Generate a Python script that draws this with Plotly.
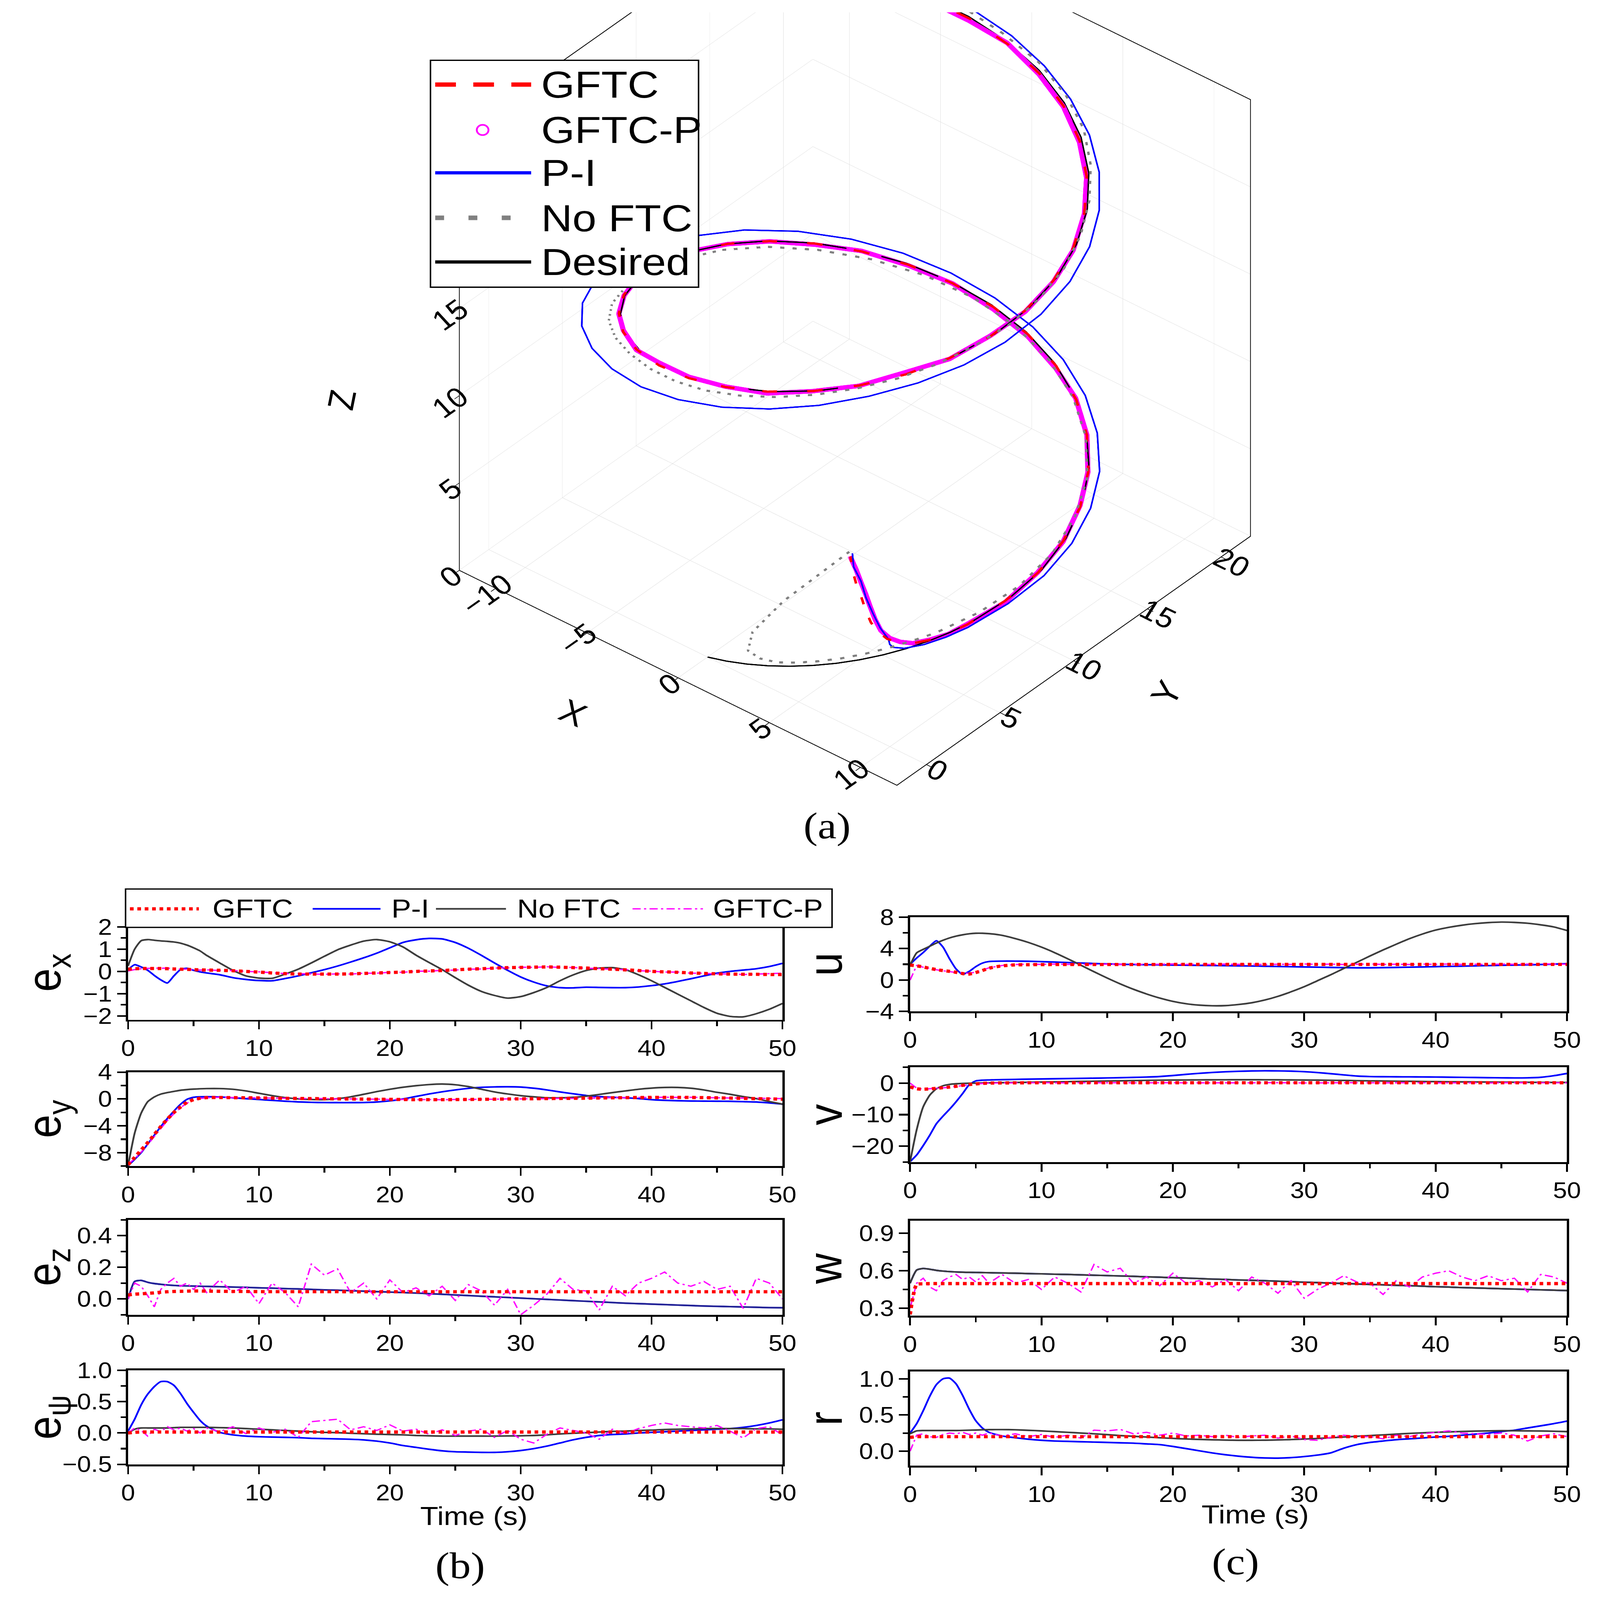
import plotly.graph_objects as go

W, H = 4329, 4929
FONT = "Arial, Liberation Sans, sans-serif"
SERIF = "Times New Roman, Liberation Serif, serif"
RED, BLUE, GRAY, MAG = "#ff0000", "#0000ff", "#3c3c3c", "#ff00ff"

# time grid (s)
t = [0, 0.5, 1, 1.5, 2, 2.5, 3, 3.5, 4, 4.5, 5, 5.5, 6,
     7, 8, 9, 10, 11, 12, 13, 14, 15, 16,
     17, 18, 19, 20, 21, 22, 23, 24, 25, 26,
     27, 28, 29, 30, 31, 32, 33, 34, 35, 36,
     37, 38, 39, 40, 41, 42, 43, 44, 45, 46,
     47, 48, 49, 50]

# desired helix
xd = [0.00, 1.00, 1.99, 2.96, 3.89, 4.79, 5.65, 6.44, 7.17, 7.83, 8.41, 8.91, 9.32,
      9.85, 10.00, 9.74, 9.09, 8.08, 6.75, 5.16, 3.35, 1.41, -0.58,
      -2.56, -4.43, -6.12, -7.57, -8.72, -9.52, -9.94, -9.96, -9.59, -8.84,
      -7.73, -6.31, -4.65, -2.79, -0.83, 1.17, 3.12, 4.94, 6.57, 7.94,
      8.99, 9.68, 9.99, 9.89, 9.41, 8.55, 7.34, 5.85, 4.12, 2.23,
      0.25, -1.74, -3.67, -5.44]
yd = [0.00, 0.05, 0.20, 0.45, 0.79, 1.22, 1.75, 2.35, 3.03, 3.78, 4.60, 5.46, 6.38,
      8.30, 10.29, 12.27, 14.16, 15.89, 17.37, 18.57, 19.42, 19.90, 19.98,
      19.67, 18.97, 17.91, 16.54, 14.90, 13.07, 11.12, 9.13, 7.16, 5.32,
      3.65, 2.24, 1.15, 0.40, 0.03, 0.07, 0.50, 1.31, 2.46, 3.92,
      5.61, 7.49, 9.46, 11.46, 13.39, 15.19, 16.79, 18.11, 19.11, 19.75,
      20.00, 19.85, 19.30, 18.39]
zd = [0.0, 0.25, 0.5, 0.75, 1.0, 1.25, 1.5, 1.75, 2.0, 2.25, 2.5, 2.75, 3.0,
      3.5, 4.0, 4.5, 5.0, 5.5, 6.0, 6.5, 7.0, 7.5, 8.0,
      8.5, 9.0, 9.5, 10.0, 10.5, 11.0, 11.5, 12.0, 12.5, 13.0,
      13.5, 14.0, 14.5, 15.0, 15.5, 16.0, 16.5, 17.0, 17.5, 18.0,
      18.5, 19.0, 19.5, 20.0, 20.5, 21.0, 21.5, 22.0, 22.5, 23.0,
      23.5, 24.0, 24.5, 25.0]

# ---- e_x
ex_gftc = [0.10, 0.12, 0.13, 0.13, 0.13, 0.13, 0.12, 0.11, 0.10, 0.09, 0.08, 0.07, 0.06,
           0.05, 0.03, 0.00, -0.03, -0.07, -0.10, -0.12, -0.12, -0.12, -0.12,
           -0.11, -0.09, -0.07, -0.05, -0.03, 0.00, 0.02, 0.04, 0.07, 0.10,
           0.12, 0.15, 0.17, 0.18, 0.19, 0.20, 0.19, 0.17, 0.15, 0.12,
           0.10, 0.07, 0.04, 0.00, -0.02, -0.04, -0.07, -0.09, -0.11, -0.12,
           -0.13, -0.13, -0.14, -0.14]
ex_pi = [0.08, 0.30, 0.20, 0.05, -0.18, -0.38, -0.52, -0.20, 0.08, 0.14, 0.05, -0.02, -0.07,
         -0.15, -0.28, -0.36, -0.41, -0.42, -0.32, -0.20, -0.06, 0.08, 0.24,
         0.42, 0.61, 0.82, 1.06, 1.30, 1.42, 1.48, 1.46, 1.30, 1.04,
         0.72, 0.38, 0.05, -0.25, -0.48, -0.65, -0.73, -0.74, -0.71, -0.72,
         -0.73, -0.73, -0.70, -0.64, -0.56, -0.45, -0.33, -0.20, -0.08, 0.00,
         0.06, 0.12, 0.22, 0.36]
ex_noftc = [0.25, 1.00, 1.38, 1.43, 1.40, 1.37, 1.35, 1.32, 1.27, 1.18, 1.06, 0.92, 0.72,
            0.38, 0.05, -0.20, -0.30, -0.31, -0.12, 0.10, 0.38, 0.68, 0.97,
            1.18, 1.36, 1.43, 1.33, 1.10, 0.73, 0.40, 0.08, -0.28, -0.62,
            -0.90, -1.08, -1.20, -1.13, -0.95, -0.72, -0.42, -0.16, 0.04, 0.15,
            0.17, 0.08, -0.15, -0.42, -0.72, -1.02, -1.32, -1.62, -1.88, -2.02,
            -2.04, -1.90, -1.70, -1.44]
ex_gftcp = [0.02, 0.08, 0.12, 0.14, 0.15, 0.14, 0.15, 0.12, 0.10, 0.10, 0.08, 0.06, 0.07,
            0.04, 0.04, 0.00, -0.02, -0.06, -0.10, -0.10, -0.11, -0.13, -0.11,
            -0.12, -0.08, -0.08, -0.04, -0.04, 0.01, 0.01, 0.05, 0.06, 0.10,
            0.11, 0.15, 0.16, 0.19, 0.18, 0.21, 0.18, 0.18, 0.14, 0.13,
            0.09, 0.08, 0.03, 0.01, -0.03, -0.03, -0.08, -0.08, -0.12, -0.11,
            -0.14, -0.12, -0.10, -0.08]

# ---- e_y
ey_gftc = [-9.80, -8.70, -7.60, -6.50, -5.30, -4.10, -3.00, -2.00, -1.20, -0.50, -0.10, 0.10, 0.20,
           0.22, 0.20, 0.18, 0.16, 0.13, 0.10, 0.08, 0.06, 0.04, 0.02,
           0.00, -0.02, -0.04, -0.06, -0.08, -0.10, -0.10, -0.10, -0.09, -0.07,
           -0.05, -0.03, 0.00, 0.02, 0.04, 0.06, 0.08, 0.10, 0.12, 0.15,
           0.18, 0.20, 0.22, 0.23, 0.24, 0.24, 0.23, 0.20, 0.17, 0.13,
           0.09, 0.05, 0.01, -0.03]
ey_pi = [-9.93, -9.00, -8.00, -6.70, -5.40, -4.10, -2.90, -1.80, -0.80, -0.05, 0.25, 0.33, 0.34,
         0.30, 0.18, 0.05, -0.08, -0.20, -0.33, -0.43, -0.50, -0.53, -0.54,
         -0.54, -0.53, -0.45, -0.28, 0.00, 0.38, 0.75, 1.07, 1.35, 1.58,
         1.73, 1.80, 1.82, 1.78, 1.60, 1.35, 1.05, 0.78, 0.52, 0.35,
         0.25, 0.18, 0.06, -0.10, -0.20, -0.26, -0.30, -0.32, -0.33, -0.35,
         -0.40, -0.45, -0.58, -0.77]
ey_noftc = [-9.93, -5.10, -2.10, -0.40, 0.30, 0.73, 0.95, 1.13, 1.30, 1.40, 1.47, 1.52, 1.55,
            1.55, 1.45, 1.20, 0.85, 0.50, 0.20, 0.02, -0.08, -0.10, 0.05,
            0.32, 0.70, 1.10, 1.45, 1.75, 1.98, 2.15, 2.23, 2.12, 1.85,
            1.45, 1.05, 0.75, 0.50, 0.32, 0.18, 0.17, 0.25, 0.42, 0.68,
            0.95, 1.20, 1.45, 1.62, 1.72, 1.72, 1.60, 1.35, 1.00, 0.70,
            0.35, 0.05, -0.38, -0.77]
ey_gftcp = [-9.70, -8.90, -7.90, -6.80, -5.60, -4.40, -3.20, -2.20, -1.30, -0.60, -0.15, 0.08, 0.18,
            0.25, 0.22, 0.20, 0.15, 0.15, 0.10, 0.10, 0.05, 0.06, 0.01,
            0.02, -0.03, -0.02, -0.07, -0.06, -0.10, -0.08, -0.11, -0.07, -0.08,
            -0.03, -0.04, 0.02, 0.01, 0.05, 0.05, 0.10, 0.09, 0.14, 0.14,
            0.20, 0.19, 0.24, 0.22, 0.26, 0.23, 0.25, 0.21, 0.20, 0.15,
            0.14, 0.10, 0.09, 0.06]

# ---- e_z
ez_gftc = [0.025, 0.030, 0.032, 0.035, 0.038, 0.042, 0.045, 0.047, 0.048, 0.049, 0.050, 0.050, 0.049,
           0.048, 0.047, 0.047, 0.046, 0.046, 0.046, 0.046, 0.046, 0.046, 0.046,
           0.045, 0.045, 0.045, 0.045, 0.045, 0.045, 0.045, 0.045, 0.045, 0.045,
           0.045, 0.045, 0.045, 0.045, 0.045, 0.045, 0.045, 0.045, 0.045, 0.045,
           0.045, 0.045, 0.045, 0.045, 0.045, 0.045, 0.045, 0.045, 0.045, 0.045,
           0.045, 0.045, 0.045, 0.045]
ez_pi = [0.000, 0.110, 0.117, 0.105, 0.097, 0.092, 0.088, 0.085, 0.083, 0.082, 0.081, 0.080, 0.079,
         0.077, 0.075, 0.073, 0.070, 0.068, 0.065, 0.063, 0.060, 0.057, 0.055,
         0.052, 0.049, 0.046, 0.043, 0.040, 0.037, 0.033, 0.029, 0.025, 0.021,
         0.017, 0.013, 0.009, 0.005, 0.001, -0.003, -0.007, -0.011, -0.015, -0.019,
         -0.023, -0.027, -0.030, -0.033, -0.036, -0.039, -0.042, -0.045, -0.047, -0.049,
         -0.051, -0.053, -0.055, -0.056]
ez_noftc = list(ez_pi)  # the two curves lie on top of each other
ez_gftcp = [0.00, 0.10, 0.08, 0.02, -0.05, 0.06, 0.10, 0.13, 0.08, 0.10, 0.06, 0.10, 0.04,
            0.12, 0.04, 0.08, -0.03, 0.10, 0.04, -0.05, 0.22, 0.15, 0.19,
            0.04, 0.10, 0.00, 0.12, 0.04, 0.07, 0.02, 0.08, -0.01, 0.09,
            0.05, -0.04, 0.06, -0.10, -0.04, 0.03, 0.13, 0.06, 0.05, -0.07,
            0.08, 0.02, 0.10, 0.13, 0.17, 0.10, 0.08, 0.11, 0.06, 0.08,
            -0.06, 0.13, 0.10, 0.00]

# ---- e_psi
epsi_gftc = [0.000, 0.010, 0.015, 0.015, 0.016, 0.016, 0.015, 0.015, 0.015, 0.015, 0.015, 0.015, 0.015,
             0.015, 0.015, 0.015, 0.015, 0.015, 0.015, 0.015, 0.015, 0.015, 0.015,
             0.015, 0.015, 0.015, 0.015, 0.015, 0.015, 0.015, 0.015, 0.015, 0.015,
             0.015, 0.015, 0.015, 0.015, 0.015, 0.015, 0.015, 0.015, 0.015, 0.015,
             0.015, 0.015, 0.015, 0.015, 0.015, 0.015, 0.015, 0.015, 0.015, 0.015,
             0.015, 0.015, 0.015, 0.015]
epsi_pi = [0.03, 0.22, 0.45, 0.62, 0.74, 0.82, 0.82, 0.76, 0.63, 0.47, 0.33, 0.20, 0.11,
           0.01, -0.03, -0.05, -0.06, -0.065, -0.07, -0.075, -0.085, -0.09, -0.095,
           -0.10, -0.11, -0.13, -0.16, -0.20, -0.23, -0.26, -0.285, -0.30, -0.305,
           -0.31, -0.31, -0.30, -0.28, -0.25, -0.21, -0.16, -0.11, -0.07, -0.04,
           -0.025, -0.015, 0.00, 0.01, 0.02, 0.03, 0.04, 0.05, 0.06, 0.07,
           0.09, 0.12, 0.16, 0.21]
epsi_noftc = [0.00, 0.06, 0.08, 0.08, 0.08, 0.08, 0.08, 0.085, 0.09, 0.09, 0.09, 0.09, 0.09,
              0.085, 0.08, 0.07, 0.06, 0.05, 0.04, 0.03, 0.02, 0.01, 0.005,
              -0.005, -0.012, -0.02, -0.025, -0.03, -0.04, -0.045, -0.05, -0.05, -0.05,
              -0.05, -0.05, -0.047, -0.045, -0.04, -0.03, -0.015, -0.005, 0.005, 0.015,
              0.025, 0.03, 0.04, 0.045, 0.055, 0.06, 0.065, 0.07, 0.07, 0.07,
              0.07, 0.065, 0.065, 0.06]
epsi_gftcp = [0.00, 0.08, 0.04, -0.05, 0.06, 0.02, 0.10, 0.05, 0.08, 0.03, 0.07, 0.00, 0.08,
              0.02, 0.10, -0.01, 0.08, 0.01, 0.06, -0.07, 0.18, 0.20, 0.22,
              0.05, 0.10, 0.04, 0.13, 0.03, 0.06, -0.02, 0.05, -0.04, 0.03,
              0.06, -0.07, 0.04, -0.10, -0.16, -0.02, 0.08, 0.04, 0.00, -0.10,
              0.06, -0.01, 0.07, 0.12, 0.16, 0.12, 0.10, 0.08, 0.12, 0.03,
              -0.08, 0.07, 0.10, -0.03]

# ---- u
u_gftc = [1.90, 1.80, 1.66, 1.48, 1.32, 1.20, 1.10, 0.98, 0.82, 0.76, 0.95, 1.20, 1.50,
          1.80, 1.92, 1.95, 1.96, 1.97, 1.97, 1.97, 1.97, 1.97, 1.97,
          1.97, 1.97, 1.97, 1.98, 1.98, 1.98, 1.98, 1.98, 1.98, 1.98,
          1.98, 1.98, 1.98, 1.98, 1.98, 1.98, 1.98, 1.98, 1.98, 1.98,
          1.98, 1.98, 1.98, 1.98, 1.98, 1.98, 1.98, 1.98, 1.98, 1.98,
          1.98, 1.98, 1.98, 1.98]
u_pi = [2.00, 2.80, 3.50, 4.30, 5.00, 4.20, 2.70, 1.40, 0.72, 1.10, 1.70, 2.15, 2.35,
        2.40, 2.40, 2.38, 2.34, 2.28, 2.22, 2.16, 2.10, 2.05, 2.00,
        1.97, 1.95, 1.93, 1.90, 1.88, 1.86, 1.84, 1.82, 1.80, 1.78,
        1.75, 1.72, 1.69, 1.66, 1.63, 1.60, 1.57, 1.55, 1.55, 1.57,
        1.60, 1.63, 1.66, 1.70, 1.73, 1.76, 1.80, 1.83, 1.87, 1.90,
        1.93, 1.97, 2.02, 2.07]
u_noftc = [1.90, 3.45, 3.90, 4.30, 4.70, 5.05, 5.35, 5.58, 5.75, 5.88, 5.95, 5.95, 5.90,
           5.68, 5.27, 4.78, 4.18, 3.48, 2.70, 1.88, 1.05, 0.25, -0.50,
           -1.18, -1.78, -2.30, -2.72, -3.02, -3.20, -3.28, -3.26, -3.12, -2.90,
           -2.55, -2.08, -1.50, -0.85, -0.10, 0.65, 1.46, 2.25, 3.05, 3.82,
           4.55, 5.25, 5.85, 6.35, 6.70, 6.97, 7.17, 7.30, 7.37, 7.33,
           7.22, 7.02, 6.75, 6.30]
u_gftcp = [0.00, 1.85, 1.62, 1.45, 1.30, 1.18, 1.05, 0.95, 0.90, 0.85, 1.00, 1.25, 1.55,
           1.85, 1.97, 2.02, 1.99, 2.03, 1.98, 2.01, 1.96, 2.02, 1.99,
           2.03, 1.97, 2.00, 2.04, 1.98, 2.01, 1.97, 2.03, 1.99, 2.02,
           1.96, 2.01, 1.98, 2.03, 1.99, 2.02, 1.97, 2.00, 2.04, 1.98,
           2.01, 1.97, 2.02, 1.99, 2.03, 1.98, 2.01, 1.97, 2.03, 2.00,
           2.04, 2.06, 2.02, 2.00]

# ---- v
v_gftc = [-1.20, -1.80, -1.95, -1.85, -1.65, -1.45, -1.25, -1.00, -0.70, -0.45, -0.25, -0.10, 0.00,
          0.05, 0.08, 0.10, 0.10, 0.10, 0.10, 0.10, 0.10, 0.10, 0.10,
          0.10, 0.10, 0.10, 0.10, 0.10, 0.10, 0.10, 0.10, 0.10, 0.10,
          0.10, 0.10, 0.10, 0.10, 0.10, 0.10, 0.10, 0.10, 0.10, 0.10,
          0.10, 0.10, 0.10, 0.10, 0.10, 0.10, 0.10, 0.10, 0.10, 0.10,
          0.10, 0.10, 0.10, 0.10]
v_pi = [-24.9, -22.8, -19.8, -16.5, -12.9, -10.5, -8.3, -5.9, -3.3, -0.5, 0.7, 0.93, 1.0,
        1.10, 1.18, 1.26, 1.32, 1.38, 1.44, 1.50, 1.57, 1.64, 1.72,
        1.82, 1.92, 2.10, 2.40, 2.78, 3.10, 3.38, 3.60, 3.75, 3.85,
        3.90, 3.88, 3.80, 3.63, 3.35, 3.00, 2.60, 2.25, 2.08, 2.03,
        2.00, 1.98, 1.95, 1.92, 1.88, 1.83, 1.78, 1.73, 1.68, 1.65,
        1.68, 1.85, 2.35, 3.05]
v_noftc = [-24.9, -14.8, -7.5, -3.8, -1.8, -0.85, -0.40, -0.20, -0.10, -0.05, 0.00, 0.05, 0.08,
           0.14, 0.20, 0.27, 0.33, 0.40, 0.47, 0.54, 0.60, 0.67, 0.74,
           0.80, 0.87, 0.93, 0.97, 1.00, 1.03, 1.05, 1.06, 1.07, 1.07,
           1.06, 1.04, 1.01, 0.98, 0.94, 0.90, 0.85, 0.78, 0.72, 0.67,
           0.62, 0.57, 0.52, 0.48, 0.44, 0.40, 0.37, 0.34, 0.31, 0.28,
           0.26, 0.24, 0.22, 0.20]
v_gftcp = [0.00, -1.60, -1.90, -1.80, -1.70, -1.50, -1.30, -1.05, -0.75, -0.50, -0.30, -0.12, 0.00,
           0.08, 0.12, 0.06, 0.14, 0.09, 0.13, 0.07, 0.12, 0.10, 0.15,
           0.08, 0.12, 0.06, 0.14, 0.10, 0.09, 0.13, 0.07, 0.12, 0.10,
           0.15, 0.08, 0.11, 0.06, 0.13, 0.10, 0.14, 0.08, 0.12, 0.09,
           0.13, 0.07, 0.12, 0.10, 0.14, 0.09, 0.11, 0.06, 0.13, 0.10,
           0.12, 0.08, 0.11, 0.10]

# ---- w
w_gftc = [0.25, 0.49, 0.495, 0.497, 0.497, 0.497, 0.497, 0.497, 0.497, 0.497, 0.497, 0.497, 0.497,
          0.497, 0.497, 0.497, 0.497, 0.497, 0.497, 0.497, 0.497, 0.497, 0.497,
          0.497, 0.497, 0.497, 0.497, 0.497, 0.497, 0.497, 0.497, 0.497, 0.497,
          0.497, 0.497, 0.497, 0.497, 0.497, 0.497, 0.497, 0.497, 0.497, 0.497,
          0.497, 0.497, 0.497, 0.497, 0.497, 0.497, 0.497, 0.497, 0.497, 0.497,
          0.497, 0.497, 0.497, 0.497]
w_noftc = [0.50, 0.605, 0.618, 0.612, 0.603, 0.597, 0.593, 0.590, 0.588, 0.587, 0.586, 0.585, 0.584,
           0.582, 0.580, 0.577, 0.575, 0.572, 0.570, 0.567, 0.564, 0.561, 0.558,
           0.555, 0.551, 0.548, 0.544, 0.541, 0.537, 0.533, 0.530, 0.526, 0.523,
           0.520, 0.516, 0.512, 0.508, 0.505, 0.501, 0.498, 0.494, 0.490, 0.487,
           0.483, 0.480, 0.476, 0.472, 0.469, 0.465, 0.462, 0.459, 0.456, 0.453,
           0.450, 0.447, 0.444, 0.441]
w_pi = list(w_noftc)  # hidden under the No FTC curve
w_gftcp = [0.30, 0.50, 0.54, 0.47, 0.44, 0.52, 0.55, 0.57, 0.53, 0.55, 0.51, 0.56, 0.50,
           0.57, 0.50, 0.53, 0.45, 0.55, 0.50, 0.43, 0.65, 0.59, 0.62,
           0.50, 0.55, 0.48, 0.58, 0.50, 0.52, 0.47, 0.53, 0.44, 0.55,
           0.50, 0.42, 0.52, 0.38, 0.45, 0.50, 0.56, 0.51, 0.50, 0.41,
           0.52, 0.47, 0.55, 0.58, 0.60, 0.55, 0.52, 0.56, 0.52, 0.54,
           0.43, 0.57, 0.55, 0.50]

# ---- r
r_gftc = [0.19, 0.20, 0.20, 0.20, 0.20, 0.20, 0.20, 0.20, 0.20, 0.20, 0.20, 0.20, 0.20,
          0.20, 0.20, 0.20, 0.20, 0.20, 0.20, 0.20, 0.20, 0.20, 0.20,
          0.20, 0.20, 0.20, 0.20, 0.20, 0.20, 0.20, 0.20, 0.20, 0.20,
          0.20, 0.20, 0.20, 0.20, 0.20, 0.20, 0.20, 0.20, 0.20, 0.20,
          0.20, 0.20, 0.20, 0.20, 0.20, 0.20, 0.20, 0.20, 0.20, 0.20,
          0.20, 0.20, 0.20, 0.20]
r_pi = [0.25, 0.38, 0.56, 0.76, 0.92, 1.00, 1.01, 0.93, 0.77, 0.58, 0.42, 0.32, 0.26,
        0.21, 0.185, 0.165, 0.15, 0.14, 0.135, 0.13, 0.125, 0.12, 0.115,
        0.11, 0.10, 0.09, 0.065, 0.035, 0.005, -0.025, -0.05, -0.07, -0.085,
        -0.095, -0.097, -0.09, -0.075, -0.055, -0.025, 0.04, 0.09, 0.12, 0.14,
        0.158, 0.17, 0.182, 0.195, 0.205, 0.22, 0.235, 0.25, 0.27, 0.29,
        0.32, 0.35, 0.38, 0.415]
r_noftc = [0.24, 0.28, 0.285, 0.285, 0.285, 0.285, 0.285, 0.285, 0.287, 0.29, 0.292, 0.295, 0.297,
           0.298, 0.295, 0.288, 0.28, 0.27, 0.26, 0.25, 0.24, 0.228, 0.215,
           0.205, 0.195, 0.185, 0.176, 0.168, 0.162, 0.157, 0.153, 0.15, 0.15,
           0.151, 0.155, 0.16, 0.167, 0.175, 0.185, 0.195, 0.205, 0.215, 0.225,
           0.235, 0.245, 0.253, 0.26, 0.266, 0.272, 0.277, 0.28, 0.282, 0.282,
           0.28, 0.278, 0.275, 0.27]
r_gftcp = [0.00, 0.22, 0.24, 0.20, 0.19, 0.23, 0.25, 0.24, 0.26, 0.23, 0.25, 0.22, 0.25,
           0.21, 0.24, 0.20, 0.23, 0.19, 0.22, 0.18, 0.29, 0.28, 0.30,
           0.24, 0.26, 0.22, 0.25, 0.21, 0.22, 0.20, 0.22, 0.19, 0.21,
           0.22, 0.18, 0.21, 0.16, 0.15, 0.19, 0.22, 0.20, 0.20, 0.17,
           0.22, 0.20, 0.24, 0.26, 0.28, 0.25, 0.24, 0.23, 0.25, 0.22,
           0.14, 0.21, 0.24, 0.20]


def track(ex, ey, ez):
    # actual position = desired - tracking error
    return ([a - b for a, b in zip(xd, ex)],
            [a - b for a, b in zip(yd, ey)],
            [a - b for a, b in zip(zd, ez)])


fig = go.Figure()

# ---------------- 3D trajectory (a)
# scene: box, desired and the GFTC-P band; scene2 (same view, no axes) lays the other lines on top
fig.add_trace(go.Scatter3d(x=xd, y=yd, z=zd, mode="lines", showlegend=False, scene="scene",
                           line=dict(color="black", width=8)))
px_, py_, pz_ = track(ex_gftcp, ey_gftcp, ez_gftcp)
fig.add_trace(go.Scatter3d(x=px_, y=py_, z=pz_, mode="lines", showlegend=False, scene="scene",
                           line=dict(color=MAG, width=28)))
gx, gy, gz = track(ex_gftc, ey_gftc, ez_gftc)
fig.add_trace(go.Scatter3d(x=gx, y=gy, z=gz, mode="lines", showlegend=False, scene="scene2",
                           line=dict(color=RED, width=14, dash="dash")))
bx, by, bz = track(ex_pi, ey_pi, ez_pi)
fig.add_trace(go.Scatter3d(x=bx, y=by, z=bz, mode="lines", showlegend=False, scene="scene2",
                           line=dict(color=BLUE, width=9)))
nx, ny, nz = track(ex_noftc, ey_noftc, ez_noftc)
fig.add_trace(go.Scatter3d(x=nx, y=ny, z=nz, mode="lines", showlegend=False, scene="scene2",
                           line=dict(color="#808080", width=13, dash="dot")))

ax3 = dict(showbackground=False, showgrid=True, gridcolor="#dadada", gridwidth=2,
           showline=True, linecolor="black", linewidth=5, mirror=True,
           ticks="outside", tickcolor="black", ticklen=20, tickwidth=4,
           tickfont=dict(size=32, family=FONT, color="black"),
           zeroline=False, showspikes=False)
RANGES = dict(x=[-12, 12], y=[-2, 22], z=[0, 25])
CAM = dict(eye=dict(x=0.81, y=-0.97, z=0.89), up=dict(x=0, y=0, z=1),
           center=dict(x=0, y=0, z=-0.25), projection=dict(type="orthographic"))
DOM = dict(x=[0.187, 0.887], y=[0.497, 1.0])
ASP = dict(x=1.264, y=1.223, z=1.484)
fig.update_layout(scene=dict(
    domain=DOM,
    xaxis=dict(ax3, range=RANGES["x"], tickvals=[-10, -5, 0, 5, 10], title_text=""),
    yaxis=dict(ax3, range=RANGES["y"], tickvals=[0, 5, 10, 15, 20], title_text=""),
    zaxis=dict(ax3, range=RANGES["z"], tickvals=[0, 5, 10, 15, 20, 25], title_text=""),
    aspectmode="manual", aspectratio=ASP, camera=CAM, bgcolor="rgba(0,0,0,0)"))
fig.update_layout(scene2=dict(
    domain=DOM,
    xaxis=dict(visible=False, range=RANGES["x"]),
    yaxis=dict(visible=False, range=RANGES["y"]),
    zaxis=dict(visible=False, range=RANGES["z"]),
    aspectmode="manual", aspectratio=ASP, camera=CAM, bgcolor="rgba(0,0,0,0)"))

# ---------------- 2D panels (b), (c)
LX, RX = [332 / W, 2126 / W], [2476 / W, 4277 / W]


def ydom(top, bot):
    return [1 - bot / H, 1 - top / H]


panels = [
    # key, xdom, ydom, yrange, dtick, fmt, gftc, pi, noftc, gftcp, gray opacity
    (1, LX, ydom(2858, 3152), [-2.17, 2.05], 1, "d", ex_gftc, ex_pi, ex_noftc, ex_gftcp, 1.0),
    (2, LX, ydom(3316, 3610), [-10, 4], 4, "d", ey_gftc, ey_pi, ey_noftc, ey_gftcp, 1.0),
    (3, LX, ydom(3778, 4075), [-0.1, 0.5], 0.2, ".1f", ez_gftc, ez_pi, ez_noftc, ez_gftcp, 0.55),
    (4, LX, ydom(4249, 4543), [-0.5, 1.0], 0.5, ".1f", epsi_gftc, epsi_pi, epsi_noftc, epsi_gftcp, 1.0),
    (5, RX, ydom(2831, 3126), [-4, 8], 4, "d", u_gftc, u_pi, u_noftc, u_gftcp, 1.0),
    (6, RX, ydom(3301, 3597), [-25, 5], 10, "d", v_gftc, v_pi, v_noftc, v_gftcp, 1.0),
    (7, RX, ydom(3781, 4078), [0.24, 1.0], 0.3, ".1f", w_gftc, w_pi, w_noftc, w_gftcp, 1.0),
    (8, RX, ydom(4253, 4547), [-0.2, 1.1], 0.5, ".1f", r_gftc, r_pi, r_noftc, r_gftcp, 1.0),
]

GP_DASH = "22px,9px,6px,9px"
tickfont = dict(size=68, family=FONT, color="black")
for k, xdm, ydm, yr, dt, fmt, s_g, s_p, s_n, s_gp, gop in panels:
    xa, ya = "x%d" % k, "y%d" % k
    fig.add_trace(go.Scatter(x=t, y=s_p, xaxis=xa, yaxis=ya, mode="lines", showlegend=False,
                             line=dict(color=BLUE, width=5, shape="spline", smoothing=0.6)))
    fig.add_trace(go.Scatter(x=t, y=s_n, xaxis=xa, yaxis=ya, mode="lines", showlegend=False,
                             opacity=gop,
                             line=dict(color=GRAY, width=5, shape="spline", smoothing=0.6)))
    fig.add_trace(go.Scatter(x=t, y=s_gp, xaxis=xa, yaxis=ya, mode="lines", showlegend=False,
                             line=dict(color=MAG, width=4, dash=GP_DASH)))
    fig.add_trace(go.Scatter(x=t, y=s_g, xaxis=xa, yaxis=ya, mode="lines", showlegend=False,
                             line=dict(color=RED, width=10, dash="dot", shape="spline", smoothing=0.6)))
    fig.layout["xaxis%d" % k] = dict(
        domain=xdm, anchor=ya, range=[0, 50], tick0=0, dtick=10,
        ticks="outside", ticklen=24, tickwidth=5, tickcolor="black",
        minor=dict(dtick=5, ticks="outside", ticklen=14, tickwidth=5, tickcolor="black"),
        showline=True, linewidth=6, linecolor="black", mirror=True,
        showgrid=False, zeroline=False, tickfont=tickfont)
    fig.layout["yaxis%d" % k] = dict(
        domain=ydm, anchor=xa, range=yr, tick0=0, dtick=dt, tickformat=fmt,
        ticks="outside", ticklen=24, tickwidth=5, tickcolor="black",
        minor=dict(dtick=dt / 2, ticks="outside", ticklen=14, tickwidth=5, tickcolor="black"),
        showline=True, linewidth=6, linecolor="black", mirror=True,
        showgrid=False, zeroline=False, tickfont=tickfont)


# ---------------- hand-made legends (long samples like the original)
def px2paper(x, y):
    return x / W, 1 - y / H


shapes, ann = [], []


def box(x0, y0, x1, y1):
    a, b = px2paper(x0, y0)
    c, d = px2paper(x1, y1)
    shapes.append(dict(type="rect", xref="paper", yref="paper", x0=a, y0=d, x1=c, y1=b,
                       line=dict(color="black", width=4), fillcolor="white", layer="above"))


def sample(x0, x1, y, color, width, dash="solid"):
    a, b = px2paper(x0, y)
    c, _ = px2paper(x1, y)
    shapes.append(dict(type="line", xref="paper", yref="paper", x0=a, y0=b, x1=c, y1=b,
                       line=dict(color=color, width=width, dash=dash), layer="above"))


def label(txt, x, y, size, angle=0, anchor="left", family=FONT):
    a, b = px2paper(x, y)
    ann.append(dict(text=txt, x=a, y=b, xref="paper", yref="paper", showarrow=False,
                    xanchor=anchor, yanchor="middle", textangle=angle,
                    font=dict(size=size, family=family, color="black")))


# legend of (a)
box(1161, 150, 1896, 860)
leg3d = [("GFTC", 226, RED, 13, "56px,47px"), ("GFTC-P", 367, None, 0, None),
         ("P-I", 502, BLUE, 10, "solid"), ("No FTC", 643, "#808080", 14, "24px,66px"),
         ("Desired", 781, "black", 10, "solid")]
for name, yy, col, wd, ds in leg3d:
    if col is None:
        a, b = px2paper(1288, 352)
        c, d = px2paper(1320, 384)
        shapes.append(dict(type="circle", xref="paper", yref="paper", x0=a, y0=d, x1=c, y1=b,
                           line=dict(color=MAG, width=5), layer="above"))
    else:
        sample(1174, 1437, yy, col, wd, ds)
    label(name, 1462, yy, 117)

# 3D axis titles, turned along their axes as in the original
label("X", 1552, 2192, 100, angle=26, anchor="center")
label("Y", 3179, 2130, 100, angle=-60, anchor="center")
label("Z", 918, 1212, 100, angle=-80, anchor="center")

# legend of (b)/(c)
box(325, 2743, 2262, 2863)
leg2d = [("GFTC", 337, 526, 561, RED, 10, "dot"), ("P-I", 838, 1024, 1052, BLUE, 5, "solid"),
         ("No FTC", 1176, 1368, 1396, GRAY, 5, "solid"),
         ("GFTC-P", 1715, 1908, 1933, MAG, 4, GP_DASH)]
for name, s0, s1, tx, col, wd, ds in leg2d:
    sample(s0, s1, 2805, col, wd, ds)
    label(name, tx, 2805, 80)

# axis labels and captions
labels = [
    ("e<sub>x</sub>", 110, 3005), ("e<sub>y</sub>", 110, 3463),
    ("e<sub>z</sub>", 110, 3926), ("e<sub>\u03c8</sub>", 110, 4396),
    ("u", 2243, 2978), ("v", 2243, 3449), ("w", 2243, 3930), ("r", 2243, 4400),
]
for txt, x, y in labels:
    label(txt, x, y, 130, angle=-90, anchor="center")
for x, y in [(1280, 4705), (3422, 4700)]:
    label("Time (s)", x, y, 80, anchor="center")
for txt, x, y in [("(a)", 2249, 2545), ("(b)", 1242, 4860), ("(c)", 3368, 4848)]:
    label(txt, x, y, 115, anchor="center", family=SERIF)

fig.update_layout(
    width=W, height=H, margin=dict(l=0, r=0, t=0, b=0),
    paper_bgcolor="white", plot_bgcolor="white",
    font=dict(family=FONT, color="black"),
    showlegend=False, shapes=shapes, annotations=ann,
)

# if the browser window is smaller than the figure, shrink the whole page to fit it
fit = """
document.documentElement.style.overflow='hidden';
document.body.style.overflow='hidden';
document.body.style.margin='0';
var gd=document.getElementById('{plot_id}');
var sx=window.innerWidth/%d, sy=window.innerHeight/%d;
if (sx < 0.999 || sy < 0.999) {
  gd.style.transformOrigin='0 0';
  gd.style.transform='scale('+Math.min(sx,1)+','+Math.min(sy,1)+')';
}
""" % (W, H)
fig.write_html("out.html", config={"displayModeBar": False}, post_script=fit)
